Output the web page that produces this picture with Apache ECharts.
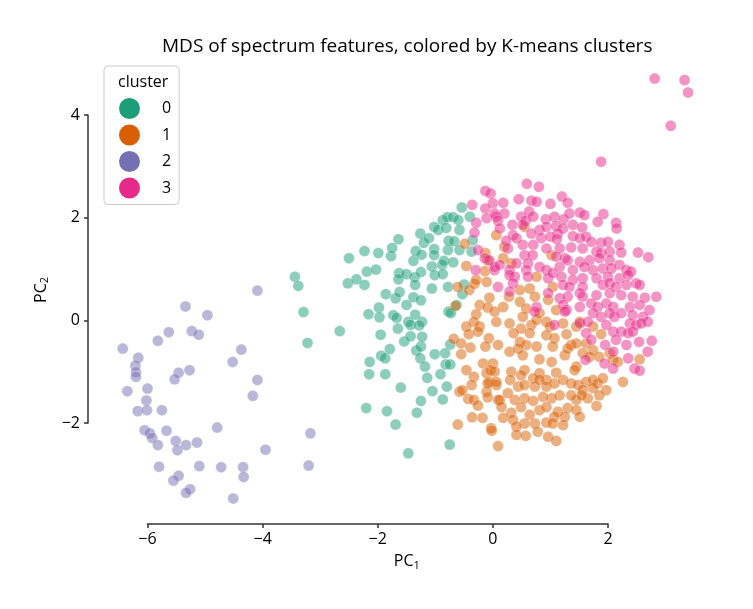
<!DOCTYPE html>
<html>
<head>
<meta charset="utf-8">
<script src="https://cdn.jsdelivr.net/npm/echarts@6/dist/echarts.min.js"></script>
<style>html,body{margin:0;padding:0;background:#fff}#c{width:753px;height:609px}</style>
</head>
<body>
<div id="c"></div>
<script>
const titleText = 'MDS of spectrum features, colored by K-means clusters';
const clusterNames = ['0', '1', '2', '3'];
const clusterColors = ['#1b9e77', '#d95f02', '#7570b3', '#e7298a'];
const xTicks = [-6, -4, -2, 0, 2];
const yTicks = [-2, 0, 2, 4];

const cluster0 = [
[-3.44,0.85],[-3.38,0.67],[-3.29,0.16],[-3.22,-0.44],[-2.66,-0.21],[-2.50,1.21],[-2.52,0.72],[-2.37,0.80],[-2.23,0.69],[-2.23,1.35],
[-2.19,0.95],[-2.03,0.99],[-1.99,1.31],[-1.77,1.25],[-1.75,1.41],[-1.64,1.58],[-2.16,0.12],[-1.98,0.25],[-1.97,0.06],[-1.86,0.51],
[-1.73,0.10],[-1.67,0.05],[-1.69,0.43],[-1.62,0.55],[-1.63,0.92],[-1.64,0.80],[-1.50,0.30],[-1.50,0.90],[-1.47,-0.03],[-1.43,-0.09],
[-1.38,0.45],[-1.38,1.16],[-1.34,1.35],[-1.35,0.11],[-1.36,0.84],[-1.35,0.69],[-1.25,0.94],[-1.25,0.39],[-1.26,1.69],[-1.24,1.28],
[-1.23,-0.03],[-1.20,1.51],[-1.28,-0.10],[-1.11,1.60],[-1.06,0.62],[-1.06,1.05],[-1.02,1.39],[-1.02,1.27],[-1.02,1.82],[-1.01,0.88],
[-0.95,1.76],[-0.88,1.08],[-0.87,1.95],[-0.87,0.90],[-0.85,1.16],[-0.81,1.80],[-0.78,0.65],[-0.78,1.37],[-0.77,0.17],[-0.79,2.01],
[-0.73,0.14],[-0.77,1.55],[-0.69,2.01],[-0.69,1.13],[-0.67,1.54],[-0.63,0.30],[-0.60,1.95],[-0.58,1.76],[-0.54,2.20],[-0.58,1.37],
[-0.53,0.51],[-0.50,0.70],[-0.40,2.02],[-0.37,1.34],[-0.35,1.56],
[-1.95,-0.28],[-2.14,-0.81],[-2.15,-1.05],[-1.87,-1.05],[-1.94,-0.69],[-1.87,-0.74],[-1.79,-0.56],[-1.60,-1.31],[-2.20,-1.71],[-1.84,-1.77],
[-1.69,-2.03],[-1.47,-2.59],[-1.65,-0.16],[-1.54,-0.41],[-1.43,-0.31],[-1.33,-0.59],[-1.25,-0.51],[-1.23,-0.32],[-1.26,-0.74],[-1.18,-0.90],
[-1.14,-1.12],[-1.25,-1.57],[-1.32,-1.80],[-1.05,-1.38],[-1.01,-0.66],[-0.91,-1.05],[-0.83,-0.64],[-0.82,-0.86],[-0.74,-0.86],[-0.80,-1.29],
[-0.87,-1.54],[-0.74,-0.47],[-0.75,-2.42]
];

const cluster1 = [
[-0.49,1.49],[-0.13,1.31],[-0.09,1.17],[0.06,1.66],[-0.46,1.06],[-0.14,0.96],[-0.11,0.75],[-0.61,0.65],[-0.41,0.59],[-0.32,0.71],
[-0.06,0.44],[-0.65,0.28],[-0.23,0.30],[-0.09,0.25],[0.03,0.17],[-0.29,0.12],[-0.33,-0.03],[-0.46,-0.12],[-0.23,-0.12],[0.06,-0.03],
[-0.68,-0.36],[-0.55,-0.45],[-0.42,-0.27],[-0.26,-0.22],[-0.07,-0.35],[-0.13,-0.51],[-0.39,-0.53],[-0.55,-0.66],[-0.17,-0.84],[0.00,-0.84],
[-0.46,-0.97],[-0.33,-1.10],[-0.37,-1.26],[-0.11,-1.03],[-0.04,-0.97],[0.03,-1.00],[-0.06,-1.20],[0.06,-1.26],[-0.58,-1.39],[-0.53,-1.36],
[-0.11,-1.39],[-0.09,-1.50],[-0.43,-1.53],[-0.33,-1.55],[-0.26,-1.66],[-0.36,-1.89],[-0.18,-1.90],[0.09,-1.55],[-0.61,-2.03],[-0.03,-2.10],
[-0.02,-2.15],[0.09,-2.45],
[0.29,-0.06],[0.49,-0.16],[0.67,-0.09],[0.76,0.01],[0.93,-0.03],[0.99,-0.12],[1.22,-0.06],[1.45,-0.12],[1.51,-0.03],[0.09,-0.48],
[0.36,-0.25],[0.47,-0.42],[0.64,-0.25],[0.58,-0.48],[0.76,-0.51],[0.93,-0.29],[1.07,-0.35],[1.04,-0.51],[1.28,-0.27],[1.36,-0.48],
[1.45,-0.45],[1.62,-0.45],[1.74,-0.58],[1.88,-0.27],[0.29,-0.61],[0.44,-0.55],[0.52,-0.68],[0.81,-0.76],[1.02,-0.81],[1.25,-0.68],
[1.30,-0.55],[1.45,-0.90],[1.42,-0.97],[1.56,-0.64],[1.68,-0.71],[1.85,-0.71],[2.03,-0.64],[2.09,-0.77],[2.17,-0.81],[0.32,-1.00],
[0.55,-0.97],[0.49,-1.07],[0.81,-1.03],[1.10,-1.02],[0.93,-1.16],[0.70,-1.13],[0.06,-1.20],[-0.09,-1.23],[0.30,-1.16],[0.44,-1.29],
[0.55,-1.26],[0.73,-1.29],[0.81,-1.16],[0.93,-1.29],[1.07,-1.23],[1.22,-1.16],[1.36,-1.23],[1.48,-1.26],[1.62,-1.20],[1.74,-1.16],
[1.82,-1.23],[1.91,-1.13],[1.97,-1.36],[2.26,-1.20],[1.56,-1.36],[1.74,-1.32],[1.85,-1.46],[1.65,-1.52],[1.80,-1.67],[1.45,-1.55],
[1.54,-1.46],[1.36,-1.46],[1.16,-1.46],[1.02,-1.52],[0.87,-1.49],[0.70,-1.57],[0.55,-1.52],[0.38,-1.55],[0.26,-1.42],[0.12,-1.55],
[0.15,-1.69],[0.49,-1.69],[0.81,-1.75],[0.93,-1.69],[1.13,-1.78],[1.30,-1.71],[1.45,-1.75],[1.25,-1.88],[1.51,-1.88],[1.07,-1.88],
[0.64,-1.84],[0.32,-1.80],[0.18,-1.90],[0.35,-1.94],[0.55,-2.01],[0.73,-2.01],[0.93,-1.99],[1.04,-2.01],[1.22,-2.04],[0.41,-2.07],
[0.78,-2.17],[0.41,-2.23],[0.57,-2.25],[0.96,-2.27],[1.10,-2.35],
[0.20,1.43],[0.18,1.21],[0.32,1.11],[0.55,1.82],[1.02,1.27],[-0.29,0.79],[0.28,0.46],[0.47,0.59],[0.64,0.62],[0.76,0.85],
[0.73,0.46],[1.04,0.65],[0.96,0.40],[0.18,0.26],[0.47,0.36],[0.58,0.23],[0.81,0.14],[0.52,0.07],[1.10,0.20],[1.74,-0.12],
[2.55,-0.76]
];

const cluster2 = [
[-4.09,0.58],[-5.34,0.27],[-4.96,0.10],[-5.63,-0.23],[-5.23,-0.21],[-5.11,-0.28],[-5.82,-0.40],[-6.43,-0.55],[-6.16,-0.73],[-4.37,-0.57],
[-4.52,-0.81],[-6.21,-0.88],[-6.20,-1.01],[-6.20,-1.10],[-5.46,-1.02],[-5.27,-0.97],[-5.53,-1.15],[-6.35,-1.38],[-6.00,-1.33],[-4.09,-1.16],
[-4.17,-1.47],[-6.02,-1.56],[-6.17,-1.77],[-6.01,-1.75],[-5.75,-1.75],[-6.05,-2.14],[-5.96,-2.20],[-5.92,-2.29],[-5.67,-2.15],[-5.82,-2.43],
[-5.51,-2.35],[-5.33,-2.43],[-5.48,-2.53],[-5.14,-2.38],[-4.79,-2.09],[-3.95,-2.52],[-5.80,-2.85],[-5.10,-2.84],[-4.72,-2.86],[-4.34,-2.86],
[-4.33,-3.05],[-5.46,-3.03],[-5.55,-3.12],[-5.26,-3.29],[-5.33,-3.36],[-4.51,-3.47],[-3.17,-2.20],[-3.20,-2.83]
];

const cluster3 = [
[2.81,4.71],[3.33,4.68],[3.39,4.44],[3.09,3.79],[1.88,3.09],
[-0.13,2.52],[-0.04,2.47],[0.00,2.28],[-0.36,2.25],[-0.13,2.18],[-0.11,1.99],[0.06,2.02],[-0.29,1.90],[-0.32,1.71],[-0.26,1.37],
[-0.14,1.21],[-0.06,1.17],[0.03,0.98],[-0.30,0.98],[0.09,0.65],
[0.59,2.66],[0.80,2.60],[0.45,2.36],[0.67,2.33],[0.76,2.31],[0.18,2.29],[1.00,2.27],[1.20,2.41],[1.30,2.29],[0.03,2.08],
[0.20,2.08],[0.49,2.02],[0.63,2.12],[0.57,1.94],[0.70,2.02],[0.92,1.97],[1.07,2.02],[1.23,1.97],[1.33,2.08],[1.51,2.10],
[1.59,2.05],[1.92,2.07],[1.82,1.92],[2.14,1.90],[2.15,1.79],[0.09,1.94],[0.12,1.79],[0.34,1.86],[0.52,1.86],[0.81,1.76],
[0.93,1.82],[1.10,1.84],[1.22,1.79],[1.13,1.69],[1.39,1.86],[1.55,1.81],[0.35,1.66],[0.41,1.60],[0.67,1.69],[0.84,1.60],
[1.00,1.63],[1.11,1.58],[1.39,1.64],[1.51,1.60],[1.62,1.63],[1.71,1.53],[1.88,1.51],[2.00,1.53],[2.20,1.47],[0.23,1.55],
[0.26,1.40],[0.52,1.47],[0.70,1.47],[0.93,1.40],[1.16,1.40],[1.36,1.42],[1.56,1.40],[1.80,1.34],[1.88,1.31],[2.03,1.34],
[2.23,1.32],[2.52,1.32],[2.70,1.23],[0.55,1.27],[0.69,1.27],[1.10,1.24],[1.25,1.21],[1.30,1.17],[1.51,1.14],[1.68,1.17],
[1.85,1.21],[2.03,1.17],[2.20,1.08],[2.32,0.98],[2.40,0.95],[0.03,1.04],[0.12,1.08],[0.41,1.11],[0.61,1.11],[0.58,0.98],
[0.81,1.04],[0.93,0.98],[1.16,1.04],[1.39,0.98],[1.59,1.04],[1.74,0.98],[1.91,1.01],[2.06,1.01],[0.29,0.98],[0.38,0.85],
[0.61,0.85],[0.96,0.82],[1.04,0.92],[1.19,0.85],[1.39,0.79],[1.56,0.82],[1.80,0.82],[2.00,0.85],[2.20,0.82],[2.35,0.88],
[0.29,0.88],[0.35,0.72],[1.22,0.69],[1.33,0.65],[1.56,0.65],[1.91,0.69],[2.03,0.72],[2.14,0.65],[2.32,0.69],[2.49,0.72],
[2.55,0.69],[0.29,0.56],[0.96,0.53],[1.16,0.43],[1.30,0.46],[1.51,0.53],[1.56,0.46],[1.80,0.49],[2.03,0.53],[2.23,0.49],
[2.43,0.46],[2.64,0.44],[2.84,0.46],[0.76,0.26],[1.22,0.30],[1.28,0.20],[1.51,0.26],[1.71,0.33],[1.82,0.26],[1.97,0.33],
[2.09,0.26],[2.38,0.26],[2.55,0.30],[2.72,0.20],[0.73,0.17],[1.25,0.17],[1.74,0.14],[1.88,0.07],[2.03,0.14],[2.11,0.07],
[2.23,0.14],[2.43,0.10],[2.61,0.07],[2.38,-0.06],[2.49,-0.09],[2.69,-0.03],[1.07,-0.09],[1.51,-0.06],[1.65,-0.03],
[1.62,-0.25],[1.71,-0.38],[1.61,-0.77],[1.97,-0.09],[2.09,-0.22],[2.23,-0.22],[2.35,-0.25],[2.43,-0.22],[2.14,-0.38],[2.32,-0.48],
[1.95,-0.48],[2.09,-0.61],[1.94,-0.84],[2.09,-0.94],[2.35,-0.74],[2.46,-0.94],[2.55,-0.98],[2.54,-0.42],[2.69,-0.61],[2.76,-0.40],
[2.58,-0.06]
];

const clusterData = [cluster0, cluster1, cluster2, cluster3];

const FONT = '"Open Sans", "DejaVu Sans", sans-serif';
const chart = echarts.init(document.getElementById('c'), null, {renderer: 'canvas'});

const series = clusterNames.map((n, i) => ({
  name: n,
  type: 'scatter',
  data: clusterData[i],
  symbol: 'circle',
  symbolSize: 11,
  clip: false,
  itemStyle: {color: clusterColors[i], opacity: 0.5, borderColor: '#ffffff', borderWidth: 0.5},
  emphasis: {disabled: true}
}));

chart.setOption({
  animation: false,
  backgroundColor: '#ffffff',
  textStyle: {fontFamily: FONT},
  title: [
    {text: titleText, left: 157, top: 32, textStyle: {fontFamily: FONT, fontSize: 19, fontWeight: 'normal', color: '#000'}},
    {text: 'cluster', left: 113, top: 69, textStyle: {fontFamily: FONT, fontSize: 16, fontWeight: 'normal', color: '#000'}}
  ],
  legend: {
    orient: 'vertical',
    left: 104, top: 66,
    padding: [32, 8, 6, 15],
    itemWidth: 21, itemHeight: 21, itemGap: 5.5,
    icon: 'circle',
    borderColor: '#cccccc', borderWidth: 1, borderRadius: 4,
    data: clusterNames.map((n, i) => ({name: n, itemStyle: {color: clusterColors[i], opacity: 1, borderWidth: 0}})),
    textStyle: {fontFamily: FONT, fontSize: 16, color: '#000', padding: [0, 0, 0, 17]},
    selectedMode: false
  },
  grid: {left: 147.5, right: 145, top: 115, bottom: 186, containLabel: false},
  xAxis: {
    type: 'value', min: xTicks[0], max: xTicks[xTicks.length - 1], interval: 2,
    offset: 101,
    splitLine: {show: false},
    axisLine: {show: true, onZero: false, lineStyle: {color: '#333', width: 1.5}},
    axisTick: {show: true, length: 4, lineStyle: {color: '#333', width: 1.5}},
    axisLabel: {fontFamily: FONT, fontSize: 16, color: '#000', margin: 7,
      formatter: v => (v < 0 ? '\u2212' + Math.abs(v) : String(v))},
    name: 'PC{s|1}', nameLocation: 'middle', nameGap: 28,
    nameTextStyle: {fontFamily: FONT, fontSize: 16, color: '#000', padding: [0, 0, 0, 58],
      rich: {s: {fontFamily: FONT, fontSize: 11, color: '#000', padding: [8, 0, 0, 0]}}}
  },
  yAxis: {
    type: 'value', min: yTicks[0], max: yTicks[yTicks.length - 1], interval: 2,
    offset: 59.5,
    splitLine: {show: false},
    axisLine: {show: true, onZero: false, lineStyle: {color: '#333', width: 1.5}},
    axisTick: {show: true, length: 4, lineStyle: {color: '#333', width: 1.5}},
    axisLabel: {fontFamily: FONT, fontSize: 16, color: '#000', margin: 8,
      formatter: v => (v < 0 ? '\u2212' + Math.abs(v) : String(v))},
    name: 'PC{s|2}', nameLocation: 'middle', nameGap: 35,
    nameTextStyle: {fontFamily: FONT, fontSize: 16, color: '#000', padding: [0, 42, 0, 0],
      rich: {s: {fontFamily: FONT, fontSize: 11, color: '#000', padding: [8, 0, 0, 0]}}}
  },
  series: series
});
</script>
</body>
</html>
